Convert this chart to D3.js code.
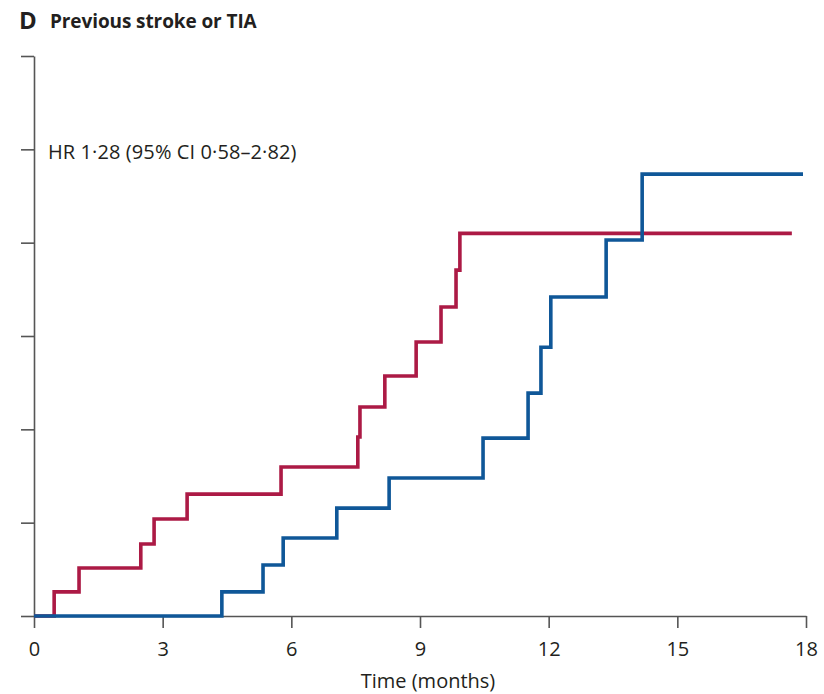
<!DOCTYPE html>
<html>
<head>
<meta charset="utf-8">
<script src="https://cdn.jsdelivr.net/npm/d3@7"></script>
<style>
  body { margin: 0; background: #fff; }
  svg text { font-family: "Open Sans", "Noto Sans", sans-serif; fill: #231f20; }
</style>
</head>
<body>
<div id="chart"></div>
<script>
// step times (months) and cumulative values after each step
var redTimes  = [0, 0.47, 1.05, 2.49, 2.80, 3.57, 5.76, 7.55, 7.60, 8.18, 8.91, 9.49, 9.84, 9.93, 17.67];
var redValues = [0, 1.29, 2.57, 3.86, 5.20, 6.53, 7.98, 9.59, 11.2, 12.86, 14.68, 16.55, 18.53, 20.5, 20.5];

var blueTimes  = [0, 4.38, 5.34, 5.81, 7.06, 8.28, 10.47, 11.52, 11.82, 12.05, 13.34, 14.18, 17.93];
var blueValues = [0, 1.29, 2.73, 4.18, 5.78, 7.39, 9.53, 11.94, 14.4, 17.09, 20.14, 23.67, 23.67];

var xTicks = [0, 3, 6, 9, 12, 15, 18];
var yTicks = [0, 5, 10, 15, 20, 25, 30];

var W = 824, H = 694;
var margin = {top: 56, right: 18, bottom: 78, left: 34},
    width = W - margin.left - margin.right,
    height = H - margin.top - margin.bottom;

var svg = d3.select("#chart")
  .append("svg")
    .attr("width", W)
    .attr("height", H);

// title
svg.append("text")
  .attr("x", 19).attr("y", 29)
  .style("font-size", "24px").style("font-weight", "bold")
  .style("letter-spacing", "-0.5px")
  .text("D");
svg.append("text")
  .attr("x", 50).attr("y", 28)
  .style("font-size", "19px").style("font-weight", "bold")
  .style("letter-spacing", "-0.1px")
  .text("Previous stroke or TIA");

var g = svg.append("g")
  .attr("transform", "translate(" + margin.left + "," + margin.top + ")");

var x = d3.scaleLinear().domain([0, 18]).range([0, width]);
var y = d3.scaleLinear().domain([0, 30]).range([height, 0]);

// axes
var yAxis = g.append("g")
  .call(d3.axisLeft(y).tickValues(yTicks).tickSize(13).tickSizeOuter(0).tickFormat(""));
var xAxis = g.append("g")
  .attr("transform", "translate(0," + height + ")")
  .call(d3.axisBottom(x).tickValues(xTicks).tickSize(12).tickSizeOuter(0).tickPadding(14));

[xAxis, yAxis].forEach(function(a) {
  a.selectAll("path, line").attr("stroke", "#555").attr("stroke-width", 1.6);
});
xAxis.selectAll("text")
  .style("font-size", "20px")
  .attr("fill", "#231f20");

g.append("text")
  .attr("x", 394)
  .attr("y", height + 72)
  .attr("text-anchor", "middle")
  .style("font-size", "20px")
  .text("Time (months)");

g.append("text")
  .attr("x", 14)
  .attr("y", y(25) + 10)
  .style("font-size", "20px")
  .style("letter-spacing", "0.1px")
  .text("HR 1·28 (95% CI 0·58–2·82)");

// step curves
var step = d3.line()
  .x(function(d) { return x(d[0]); })
  .y(function(d) { return y(d[1]); })
  .curve(d3.curveStepAfter);

g.append("path")
  .datum(d3.zip(redTimes, redValues))
  .attr("d", step)
  .attr("fill", "none")
  .attr("stroke", "#ac1a45")
  .attr("stroke-width", 3.6);

g.append("path")
  .datum(d3.zip(blueTimes, blueValues))
  .attr("d", step)
  .attr("fill", "none")
  .attr("stroke", "#0f5798")
  .attr("stroke-width", 3.6);
</script>
</body>
</html>
